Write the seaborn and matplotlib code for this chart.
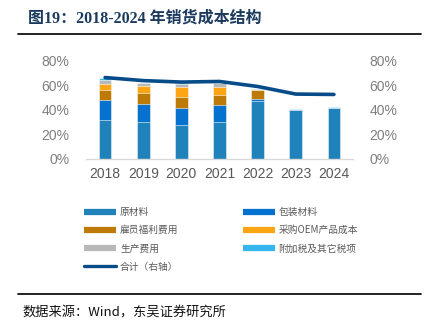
import matplotlib
matplotlib.use("Agg")
import matplotlib.pyplot as plt
import seaborn as sns
import numpy as np
import pandas as pd
from matplotlib.lines import Line2D
from matplotlib.ticker import FuncFormatter

# ---------------- data ----------------
years = ["2018", "2019", "2020", "2021", "2022", "2023", "2024"]
raw_material = [31.8, 30.2, 28.0, 30.2, 47.1, 39.7, 41.4]
packaging = [16.1, 15.0, 13.6, 13.9, 1.9, 0.0, 0.0]
employee = [8.2, 8.4, 8.7, 7.9, 7.1, 0.0, 0.0]
oem = [4.9, 5.7, 8.2, 6.8, 0.3, 0.0, 0.0]
production = [3.2, 2.7, 3.0, 3.2, 0.0, 0.0, 0.0]
tax = [1.9, 0.3, 0.2, 0.2, 0.9, 1.4, 1.0]
total_line = [66.5, 64.0, 62.8, 63.3, 59.2, 53.0, 52.7]

series_names = ["原材料", "包装材料", "雇员福利费用", "采购OEM产品成本", "生产费用", "附加税及其它税项"]
series_vals = [raw_material, packaging, employee, oem, production, tax]
series_colors = ["#1F82BA", "#0572CF", "#BD7A06", "#FDA512", "#B8B8B8", "#35B6EC"]
line_name = "合计（右轴）"
line_color = "#074B89"

sns.set_theme(style="white")
plt.rcParams["font.family"] = ["Liberation Sans", "Noto Sans CJK SC", "DejaVu Sans"]

W, H = 434, 321
fig = plt.figure(figsize=(W / 100, H / 100), dpi=100)

ax = fig.add_axes([86 / W, 1 - 159 / H, (353 - 86) / W, (159 - 61) / H])

# stacked bars: draw cumulative heights tallest first
cum = np.cumsum(np.array(series_vals), axis=0) / 100.0
for i in range(len(series_names) - 1, -1, -1):
    df = pd.DataFrame({"year": years, "v": cum[i]})
    sns.barplot(data=df, x="year", y="v", color=series_colors[i], saturation=1,
                width=0.33, ax=ax, edgecolor="#FFFFFF", linewidth=0.4, zorder=2)

ax.set_ylim(0, 0.8)
ax.set_xlim(-0.5, 6.5)
ax.set_yticks([0, 0.2, 0.4, 0.6, 0.8])
fmt = FuncFormatter(lambda v, p: f"{v*100:.0f}%")
ax.yaxis.set_major_formatter(fmt)
ax.set_xlabel("")
ax.set_ylabel("")
for s in ["top", "right", "left"]:
    ax.spines[s].set_visible(False)
ax.spines["bottom"].set_color("#D9D9D9")
ax.spines["bottom"].set_linewidth(1.0)
ax.tick_params(axis="y", length=0, labelsize=10, labelcolor="#7F7F7F", pad=12)
ax.tick_params(axis="x", length=0, labelsize=10, labelcolor="#595959", pad=6)

ax2 = ax.twinx()
ldf = pd.DataFrame({"x": np.arange(len(years)), "v": np.array(total_line) / 100.0})
sns.lineplot(data=ldf, x="x", y="v", color=line_color, linewidth=2.6, ax=ax2,
             solid_capstyle="round")
ax2.set_ylim(0, 0.8)
ax2.set_xlim(-0.5, 6.5)
ax2.set_yticks([0, 0.2, 0.4, 0.6, 0.8])
ax2.yaxis.set_major_formatter(fmt)
ax2.set_ylabel("")
ax2.set_xlabel("")
for s in ["top", "right", "left", "bottom"]:
    ax2.spines[s].set_visible(False)
ax2.tick_params(axis="y", length=0, labelsize=10, labelcolor="#7F7F7F", pad=12)

# legend
handles = {}
for n, c in zip(series_names, series_colors):
    handles[n] = Line2D([0], [0], color=c, lw=4.5, solid_capstyle="butt")
handles[line_name] = Line2D([0], [0], color=line_color, lw=2.4, solid_capstyle="round")
order = ["原材料", "雇员福利费用", "生产费用", line_name, "包装材料", "采购OEM产品成本", "附加税及其它税项"]
leg = fig.legend([handles[k] for k in order], order, ncol=2, loc="upper left",
                 bbox_to_anchor=(84 / W, 1 - 207 / H), frameon=False,
                 prop={"family": ["Noto Sans CJK SC"], "size": 7},
                 handlelength=3.3, handletextpad=0.4, columnspacing=6.6,
                 labelspacing=0.85, borderpad=0, borderaxespad=0)
for t in leg.get_texts():
    t.set_color("#595959")

# title and rules
fig.text(28 / W, 1 - 19 / H, "图19：2018-2024 年销货成本结构", ha="left", va="center",
         fontsize=11.5, fontweight="bold", color="#1B3A5E",
         family=["Liberation Serif", "Noto Sans CJK SC"])
fig.add_artist(Line2D([18 / W, 421 / W], [1 - 33.5 / H, 1 - 33.5 / H], color="#111111", lw=1.3))
fig.add_artist(Line2D([18 / W, 421 / W], [1 - 294 / H, 1 - 294 / H], color="#111111", lw=1.3))
fig.text(22 / W, 1 - 319.5 / H, "数据来源：Wind，东吴证券研究所", ha="left", va="bottom",
         fontsize=9.5, color="#111111", family=["Noto Sans CJK SC", "DejaVu Sans"])

fig.savefig("out.png", dpi=100)
